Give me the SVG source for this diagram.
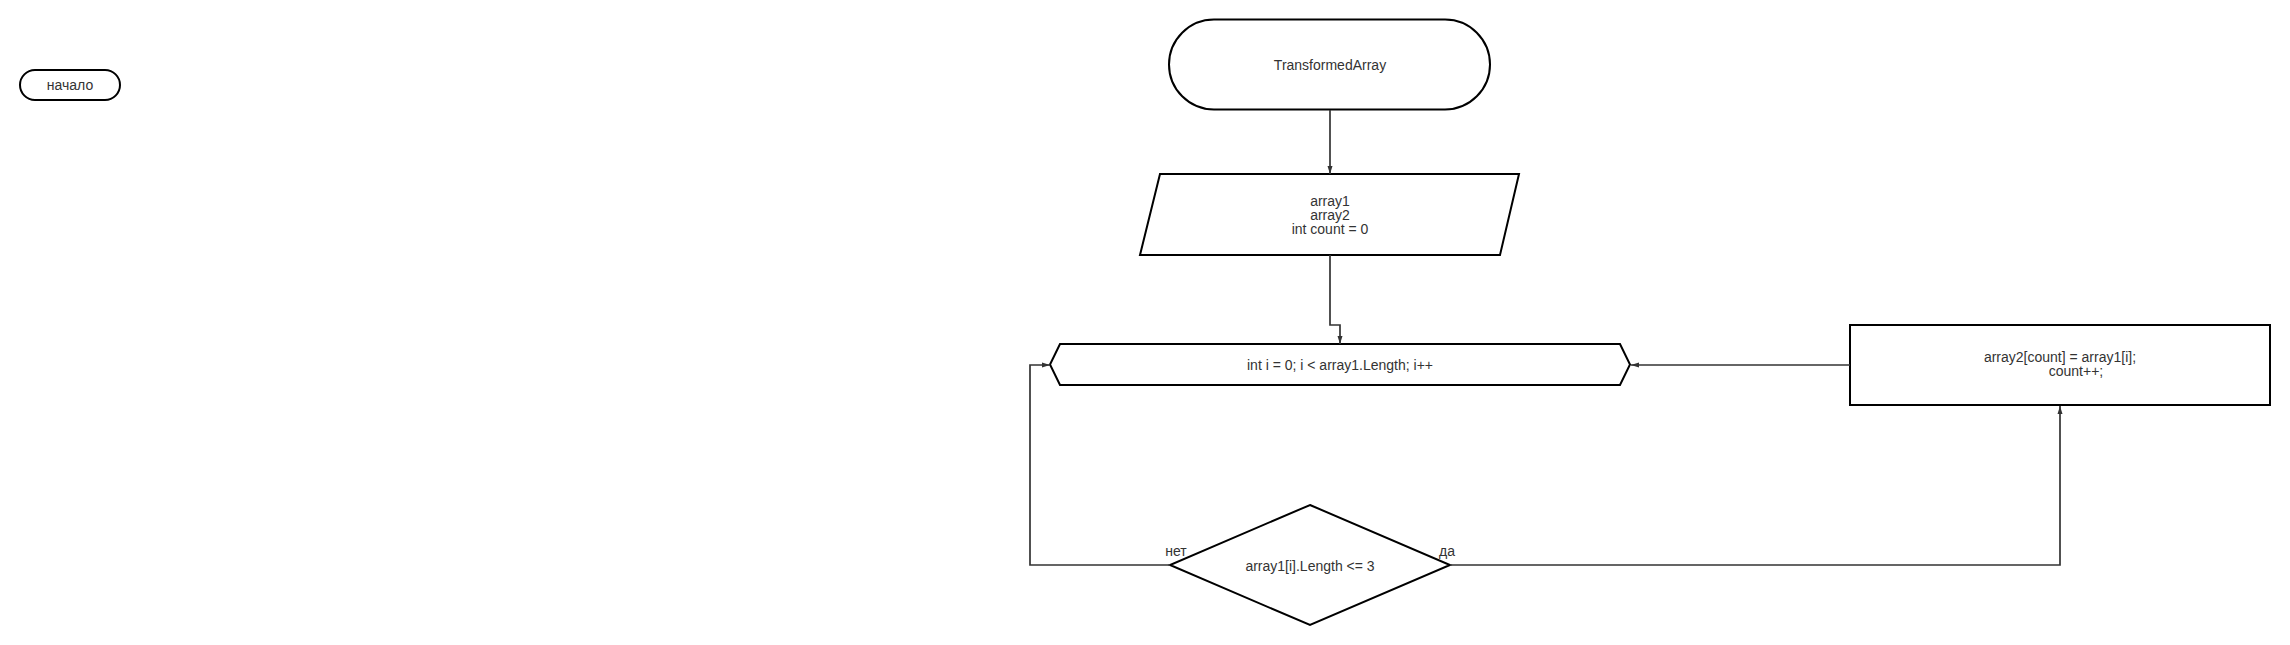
<svg xmlns="http://www.w3.org/2000/svg" width="2290" height="645" viewBox="0 0 2290 645">
<style>
.shape{fill:#fff;stroke:#000;stroke-width:2}
.conn{fill:none;stroke:#333;stroke-width:1.7}
.t{font-family:"Liberation Sans",Arial,sans-serif;font-size:14px;fill:#333;text-anchor:middle}
</style>
<defs>
<marker id="arr" markerUnits="userSpaceOnUse" markerWidth="8" markerHeight="8" viewBox="0 0 8 8" refX="8" refY="4" orient="auto">
<path d="M0,1.5 L8,4 L0,6.5 Z" fill="#333"/>
</marker>
</defs>
<rect width="2290" height="645" fill="#fff"/>
<g id="start">
<rect class="shape" x="20" y="70" width="100" height="30" rx="15"/>
<text class="t" x="70" y="90">начало</text>
</g>
<g id="terminal">
<rect class="shape" x="1169" y="19.5" width="321" height="90" rx="45"/>
<text class="t" x="1330" y="70">TransformedArray</text>
</g>
<g id="input">
<polygon class="shape" points="1160,174 1519,174 1500,255 1140,255"/>
<text class="t" x="1330" y="206">array1</text>
<text class="t" x="1330" y="220">array2</text>
<text class="t" x="1330" y="234">int count = 0</text>
</g>
<g id="loop">
<polygon class="shape" points="1060,344 1620,344 1630,364.5 1620,385 1060,385 1050,364.5"/>
<text class="t" x="1340" y="370">int i = 0; i &lt; array1.Length; i++</text>
</g>
<g id="process">
<rect class="shape" x="1850" y="325" width="420" height="80"/>
<text class="t" x="2060" y="362">array2[count] = array1[i];</text>
<text class="t" x="2076" y="376">count++;</text>
</g>
<g id="decision">
<polygon class="shape" points="1310,505 1450,565 1310,625 1170,565"/>
<text class="t" x="1310" y="571">array1[i].Length &lt;= 3</text>
</g>
<g id="connectors">
<path class="conn" d="M1330,110 L1330,174" marker-end="url(#arr)"/>
<path class="conn" d="M1330,255 L1330,325 L1340,325 L1340,344" marker-end="url(#arr)"/>
<path class="conn" d="M1850,365 L1631,365" marker-end="url(#arr)"/>
<path class="conn" d="M1170,565 L1030,565 L1030,365 L1050,365" marker-end="url(#arr)"/>
<path class="conn" d="M1450,565 L2060,565 L2060,406" marker-end="url(#arr)"/>
<text class="t" x="1176" y="556">нет</text>
<text class="t" x="1447" y="556">да</text>
</g>
</svg>
